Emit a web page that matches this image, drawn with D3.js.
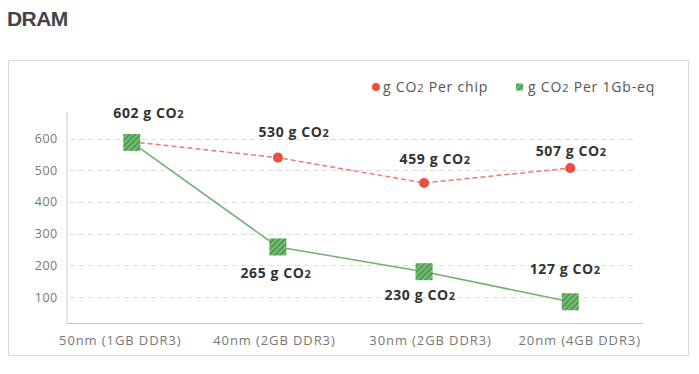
<!DOCTYPE html>
<html>
<head>
<meta charset="utf-8">
<script src="https://cdn.jsdelivr.net/npm/d3@7"></script>
<style>
  body { margin: 0; background: #fff; }
  text { font-family: "Open Sans", "Noto Sans", sans-serif; }
</style>
</head>
<body>
<div id="chart"></div>
<script>
// data
const categories = ["50nm (1GB DDR3)", "40nm (2GB DDR3)", "30nm (2GB DDR3)", "20nm (4GB DDR3)"];
const perChip = [590, 540, 460, 507];
const perGb = [588, 258, 180, 85];
const chipLabels = ["602", "530", "459", "507"];
const gbLabels = ["602", "265", "230", "127"];
const yTicks = [100, 200, 300, 400, 500, 600];

const width = 699, height = 374;
const margin = { top: 112, left: 66, right: 63, bottom: 51 };

const svg = d3.select("#chart").append("svg")
  .attr("width", width)
  .attr("height", height);

// hatch for the square markers
const defs = svg.append("defs");
const pat = defs.append("pattern")
  .attr("id", "hatch")
  .attr("patternUnits", "userSpaceOnUse")
  .attr("width", 4).attr("height", 4)
  .attr("patternTransform", "rotate(45)");
pat.append("rect").attr("width", 4).attr("height", 4).attr("fill", "#4f9e51");
pat.append("rect").attr("width", 1.3).attr("height", 4).attr("fill", "#8cc98c");

svg.append("text")
  .attr("x", 7).attr("y", 26)
  .style("font-family", "'Liberation Sans', Arial, sans-serif")
  .style("font-weight", "bold")
  .style("font-size", "21px")
  .style("letter-spacing", "-0.6px")
  .attr("fill", "#444")
  .text("DRAM");

// frame
svg.append("rect")
  .attr("x", 8.5).attr("y", 60.5)
  .attr("width", 680).attr("height", 295)
  .attr("fill", "none")
  .attr("stroke", "#d9d9d9");

const x = d3.scalePoint()
  .domain(categories)
  .range([margin.left, width - margin.right])
  .padding(0.45);

const y = d3.scaleLinear()
  .domain([18, 684])
  .range([height - margin.bottom, margin.top]);

const g = svg.append("g");

// gridlines
g.selectAll("line.grid")
  .data(yTicks)
  .join("line")
  .attr("class", "grid")
  .attr("x1", 70).attr("x2", 633)
  .attr("y1", d => Math.round(y(d)) + 0.5)
  .attr("y2", d => Math.round(y(d)) + 0.5)
  .attr("stroke", "#dcdcdc")
  .attr("stroke-dasharray", "5,4");

// y axis
const yAxis = d3.axisLeft(y).tickValues(yTicks).tickSize(0).tickPadding(9);
const ya = g.append("g")
  .attr("transform", "translate(" + (margin.left + 0.5) + ",0)")
  .call(yAxis);
ya.select(".domain").attr("stroke", "#c8c8c8");
ya.selectAll("text").attr("fill", "#777").style("font-size", "12.5px").style("letter-spacing", "0.4px");

// x axis
const xAxis = d3.axisBottom(x).tickSize(0).tickPadding(12);
const xa = g.append("g")
  .attr("transform", "translate(0," + (height - margin.bottom + 0.5) + ")")
  .call(xAxis);
xa.select(".domain").attr("d", "M0,0H" + (width - margin.right + 7 - margin.left)).attr("transform", "translate(" + margin.left + ",0)").attr("stroke", "#c8c8c8");
xa.selectAll("text").attr("fill", "#777").style("font-size", "13px").style("letter-spacing", "0.9px")
  .attr("dx", (d, i) => [-12, -4, 6, 9][i]);

// lines
const line = d3.line()
  .x((d, i) => x(categories[i]))
  .y(d => y(d));

g.append("path")
  .datum(perChip)
  .attr("fill", "none")
  .attr("stroke", "#ec7b70")
  .attr("stroke-width", 1.5)
  .attr("stroke-dasharray", "5,3")
  .attr("d", line);

g.append("path")
  .datum(perGb)
  .attr("fill", "none")
  .attr("stroke", "#6db36d")
  .attr("stroke-width", 1.5)
  .attr("d", line);

g.selectAll("circle.chip")
  .data(perChip)
  .join("circle")
  .attr("class", "chip")
  .attr("cx", (d, i) => x(categories[i]))
  .attr("cy", d => y(d))
  .attr("r", 5)
  .attr("fill", "#e8503f");

const sq = 17;
g.selectAll("rect.gb")
  .data(perGb)
  .join("rect")
  .attr("class", "gb")
  .attr("x", (d, i) => x(categories[i]) - sq / 2)
  .attr("y", d => y(d) - sq / 2)
  .attr("width", sq).attr("height", sq)
  .attr("fill", "url(#hatch)");

// value labels
function co2(sel, num) {
  sel.append("tspan").text(num + " g CO");
  sel.append("tspan").text("2").style("font-size", "11px");
}
const chipOffsets = [[17, -24], [16, -21], [11, -19], [1, -12]];
const gbOffsets = [null, [-2, 31], [-4, 28], [-5, -28]];

function label(cx, cy, num) {
  const t = g.append("text")
    .attr("x", cx).attr("y", cy)
    .attr("text-anchor", "middle")
    .attr("fill", "#333")
    .style("font-weight", "bold")
    .style("font-size", "14px")
    .style("letter-spacing", "0.6px");
  co2(t, num);
}
chipLabels.forEach((v, i) => {
  label(x(categories[i]) + chipOffsets[i][0], y(perChip[i]) + chipOffsets[i][1], v);
});
gbLabels.forEach((v, i) => {
  if (!gbOffsets[i]) return;
  label(x(categories[i]) + gbOffsets[i][0], y(perGb[i]) + gbOffsets[i][1], v);
});

// legend
function legendText(sel, tail) {
  sel.append("tspan").text("g CO");
  sel.append("tspan").text("2").style("font-size", "11px");
  sel.append("tspan").text(" " + tail);
}
const leg = svg.append("g").attr("transform", "translate(376,87)");
leg.append("circle").attr("r", 4).attr("fill", "#e8503f");
const l1 = leg.append("text").attr("x", 7).attr("y", 5).attr("fill", "#555")
  .style("font-size", "14px").style("letter-spacing", "0.8px");
legendText(l1, "Per chip");
leg.append("rect").attr("x", 140).attr("y", -3.5).attr("width", 7).attr("height", 7).attr("fill", "url(#hatch)");
const l2 = leg.append("text").attr("x", 152).attr("y", 5).attr("fill", "#555")
  .style("font-size", "14px").style("letter-spacing", "0.8px");
legendText(l2, "Per 1Gb-eq");
</script>
</body>
</html>
